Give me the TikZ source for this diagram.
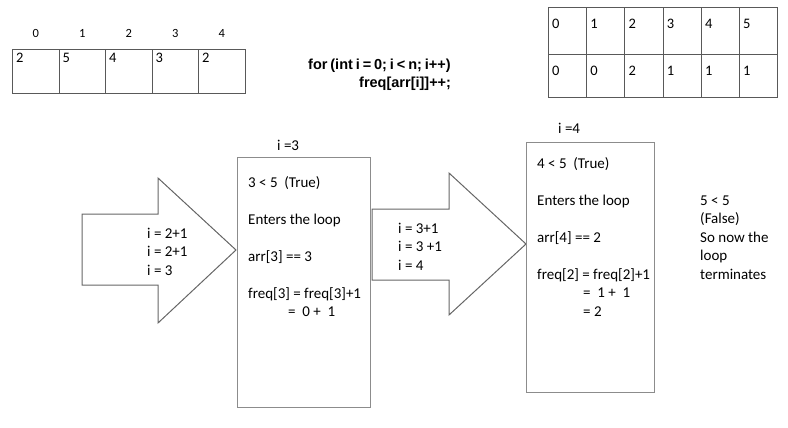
\documentclass[tikz,border=0pt]{standalone}
\usepackage{fontspec}
\setmainfont{Carlito}
\newfontfamily\codefont{Liberation Sans}
\usetikzlibrary{positioning}

\begin{document}
\begin{tikzpicture}[x=1pt, y=-1pt,
    cell/.style={draw=black!65, line width=0.9pt, minimum width=46.5pt, minimum height=44pt, anchor=north west, inner sep=0pt},
    fcell/.style={draw=black!65, line width=0.9pt, minimum width=38.2pt, anchor=north west, inner sep=0pt},
    val/.style={font=\fontsize{14.5}{17}\selectfont, inner xsep=4pt, inner ysep=4pt},
    fval/.style={font=\fontsize{14.5}{17}\selectfont, inner xsep=4pt, inner ysep=12pt},
    idx/.style={font=\fontsize{12.5}{15}\selectfont, label distance=8pt},
    txt/.style={font=\fontsize{15}{18.5}\selectfont, align=left, inner sep=0pt, anchor=north west},
    code/.style={font=\codefont\bfseries\fontsize{14.5}{18}\selectfont, inner sep=0pt},
    iterbox/.style={draw=black!45, line width=0.9pt, anchor=north west, inner sep=0pt},
    blk/.style={draw=black!60, line width=1pt, line join=miter}]
  \useasboundingbox (0,0) rectangle (788,428);

  % input array
  \foreach \v [count=\i from 0] in {2,5,4,3,2}
    \node[cell, label={[val, anchor=north west]north west:\v}, label={[idx]above:\i}] (a\i) at (12+46.5*\i, 49) {};

  % the loop
  \node[code, anchor=base west] (for) at (308,70) {\spaceskip=2.9pt\relax for (int i = 0; i < n; i++)};
  \node[code, anchor=base west] (body) at (359,88) {freq[arr[i]]++;};

  % frequency table
  \foreach \v [count=\i from 0] in {0,0,2,1,1,1} {
    \node[fcell, minimum height=47pt, label={[fval, anchor=north west]north west:\i}] (k\i) at (548+38.2*\i, 7) {};
    \node[fcell, minimum height=43pt, label={[fval, anchor=north west]north west:\v}] (f\i) at (548+38.2*\i, 54) {};
  }

  % i = 3  (text tops = first baseline - 12.95)
  \draw[blk] (82,214) -- (158,214) -- (158,178) -- (236,250) -- (158,323) -- (158,285) -- (82,285) -- cycle;
  \node[txt] (step1) at (147,225) {\strut i = 2+1\\ i = 2+1\\ i = 3};
  \node[iterbox, minimum width=133pt, minimum height=250pt] (box1) at (237,157) {};
  \node[txt] (i3) at (277,137) {\strut i =3};
  \node[txt] (body1) at (248,174)
    {\strut 3 < 5\ \ (True)\\[18.5pt] Enters the loop\\[18.5pt] arr[3] == 3\\[18.5pt]
     freq[3] = freq[3]+1\\ \hspace*{40pt}=\ \ 0 +\ \ 1};

  % i = 4
  \draw[blk] (372,209) -- (449,209) -- (449,173) -- (526,244) -- (449,315) -- (449,280) -- (372,280) -- cycle;
  \node[txt] (step2) at (398,220) {\strut i = 3+1\\ i = 3 +1\\ i = 4};
  \node[iterbox, minimum width=128pt, minimum height=250pt] (box2) at (526,142) {};
  \node[txt] (i4) at (558,120) {\strut i =4};
  \node[txt] (body2) at (537,155)
    {\strut 4 < 5\ \ (True)\\[18.5pt] Enters the loop\\[18.5pt] arr[4] == 2\\[18.5pt]
     freq[2] = freq[2]+1\\ \hspace*{46pt}=\ \ 1 +\ \ 1\\ \hspace*{46pt}= 2};

  % i = 5
  \node[txt] (stop) at (700,192) {\strut 5 < 5\\ (False)\\ So now the\\ loop\\ terminates};
\end{tikzpicture}
\end{document}
